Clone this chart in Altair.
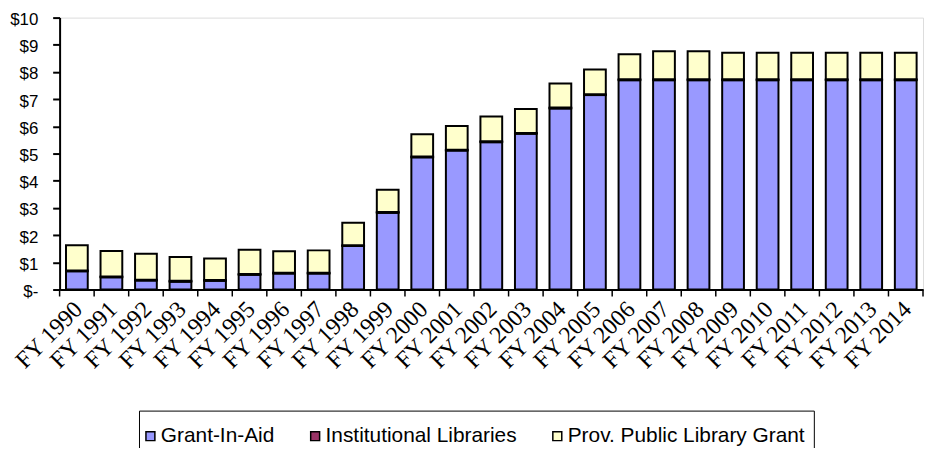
import altair as alt
import pandas as pd

years = ["FY 1990", "FY 1991", "FY 1992", "FY 1993", "FY 1994", "FY 1995", "FY 1996",
         "FY 1997", "FY 1998", "FY 1999", "FY 2000", "FY 2001", "FY 2002", "FY 2003",
         "FY 2004", "FY 2005", "FY 2006", "FY 2007", "FY 2008", "FY 2009", "FY 2010",
         "FY 2011", "FY 2012", "FY 2013", "FY 2014"]

series = ["Grant-In-Aid", "Institutional Libraries", "Prov. Public Library Grant"]
colors = ["#9999FF", "#993366", "#FFFFCC"]

grant_in_aid = [0.67, 0.45, 0.33, 0.29, 0.32, 0.54, 0.59, 0.59, 1.60, 2.82, 4.86, 5.11, 5.42,
                5.73, 6.66, 7.15, 7.70, 7.70, 7.70, 7.70, 7.70, 7.70, 7.70, 7.70, 7.70]
institutional = [0.03, 0.03, 0.03, 0.03, 0.03, 0.03, 0.03, 0.03, 0.03, 0.03, 0.03, 0.03, 0.03,
                 0.03, 0.03, 0.03, 0.03, 0.03, 0.03, 0.03, 0.03, 0.03, 0.03, 0.03, 0.03]
prov_public = [0.93, 0.94, 0.96, 0.88, 0.79, 0.89, 0.79, 0.82, 0.83, 0.82, 0.82, 0.87, 0.91,
               0.88, 0.89, 0.91, 0.92, 1.03, 1.03, 0.98, 0.98, 0.98, 0.98, 0.98, 0.98]

y_ticks = [0, 1, 2, 3, 4, 5, 6, 7, 8, 9, 10]

rows = []
for i, y in enumerate(years):
    for k, (name, vals) in enumerate(zip(series, [grant_in_aid, institutional, prov_public])):
        rows.append({"year": y, "series": name, "value": vals[i], "ord": k})
df = pd.DataFrame(rows)
ticks_df = pd.DataFrame({"year": years})
last_df = pd.DataFrame({"year": [years[-1]]})

LABEL_SANS = "Liberation Sans"

x_scale = alt.Scale(domain=years, paddingInner=0, paddingOuter=0)
x_axis = alt.Axis(title=None, labelAngle=-45, labelAlign="right",
                  labelBaseline="middle", ticks=False, domainColor="black",
                  domainWidth=2, labelFont="Liberation Serif", labelFontSize=24,
                  labelColor="black", labelPadding=16, labelOffset=2, labelOverlap=False)

bars = alt.Chart(df).mark_bar(
    stroke="black", strokeWidth=2, width=alt.RelativeBandSize(0.63)
).encode(
    x=alt.X("year:N", scale=x_scale, sort=years, axis=x_axis),
    y=alt.Y("value:Q", stack="zero", scale=alt.Scale(domain=[0, 10], nice=False),
            axis=alt.Axis(title=None, values=y_ticks, grid=False,
                          labelExpr="datum.value == 0 ? '$-' : '$' + datum.value",
                          tickSize=7, tickColor="black", tickWidth=2,
                          domainColor="black", domainWidth=2, labelPadding=15,
                          labelOffset=2, labelFont=LABEL_SANS, labelFontSize=17,
                          labelColor="black")),
    color=alt.Color("series:N", scale=alt.Scale(domain=series, range=colors),
                    legend=alt.Legend(title=" ", titleFontSize=2, titlePadding=4,
                                      orient="none", legendX=80, legendY=396,
                                      direction="horizontal", strokeColor="black",
                                      fillColor="white", padding=9, symbolType="square",
                                      symbolSize=81, symbolStrokeColor="black",
                                      symbolStrokeWidth=1.5, labelFont=LABEL_SANS,
                                      labelFontSize=21, labelColor="black", labelLimit=400,
                                      columnPadding=33, labelOffset=0, symbolOffset=-8)),
    order=alt.Order("ord:Q"),
)

tick_marks = alt.Chart(ticks_df).mark_rule(color="black", strokeWidth=1.5).encode(
    x=alt.X("year:N", scale=x_scale, sort=years, bandPosition=0, axis=x_axis),
    y=alt.value(274), y2=alt.value(281),
)
last_tick = alt.Chart(last_df).mark_rule(color="black", strokeWidth=1.5).encode(
    x=alt.X("year:N", scale=x_scale, sort=years, bandPosition=1, axis=x_axis),
    y=alt.value(274), y2=alt.value(281),
)

chart = alt.layer(bars, tick_marks, last_tick).properties(
    width=870, height=274,
    autosize=alt.AutoSizeParams(type="none"),
    padding={"left": 52, "top": 8, "right": 1, "bottom": 158},
).configure_view(fill="#C0C0C0", strokeWidth=0).configure(background="white")

chart.save("out.html", embed_options={"renderer": "svg", "actions": False})
